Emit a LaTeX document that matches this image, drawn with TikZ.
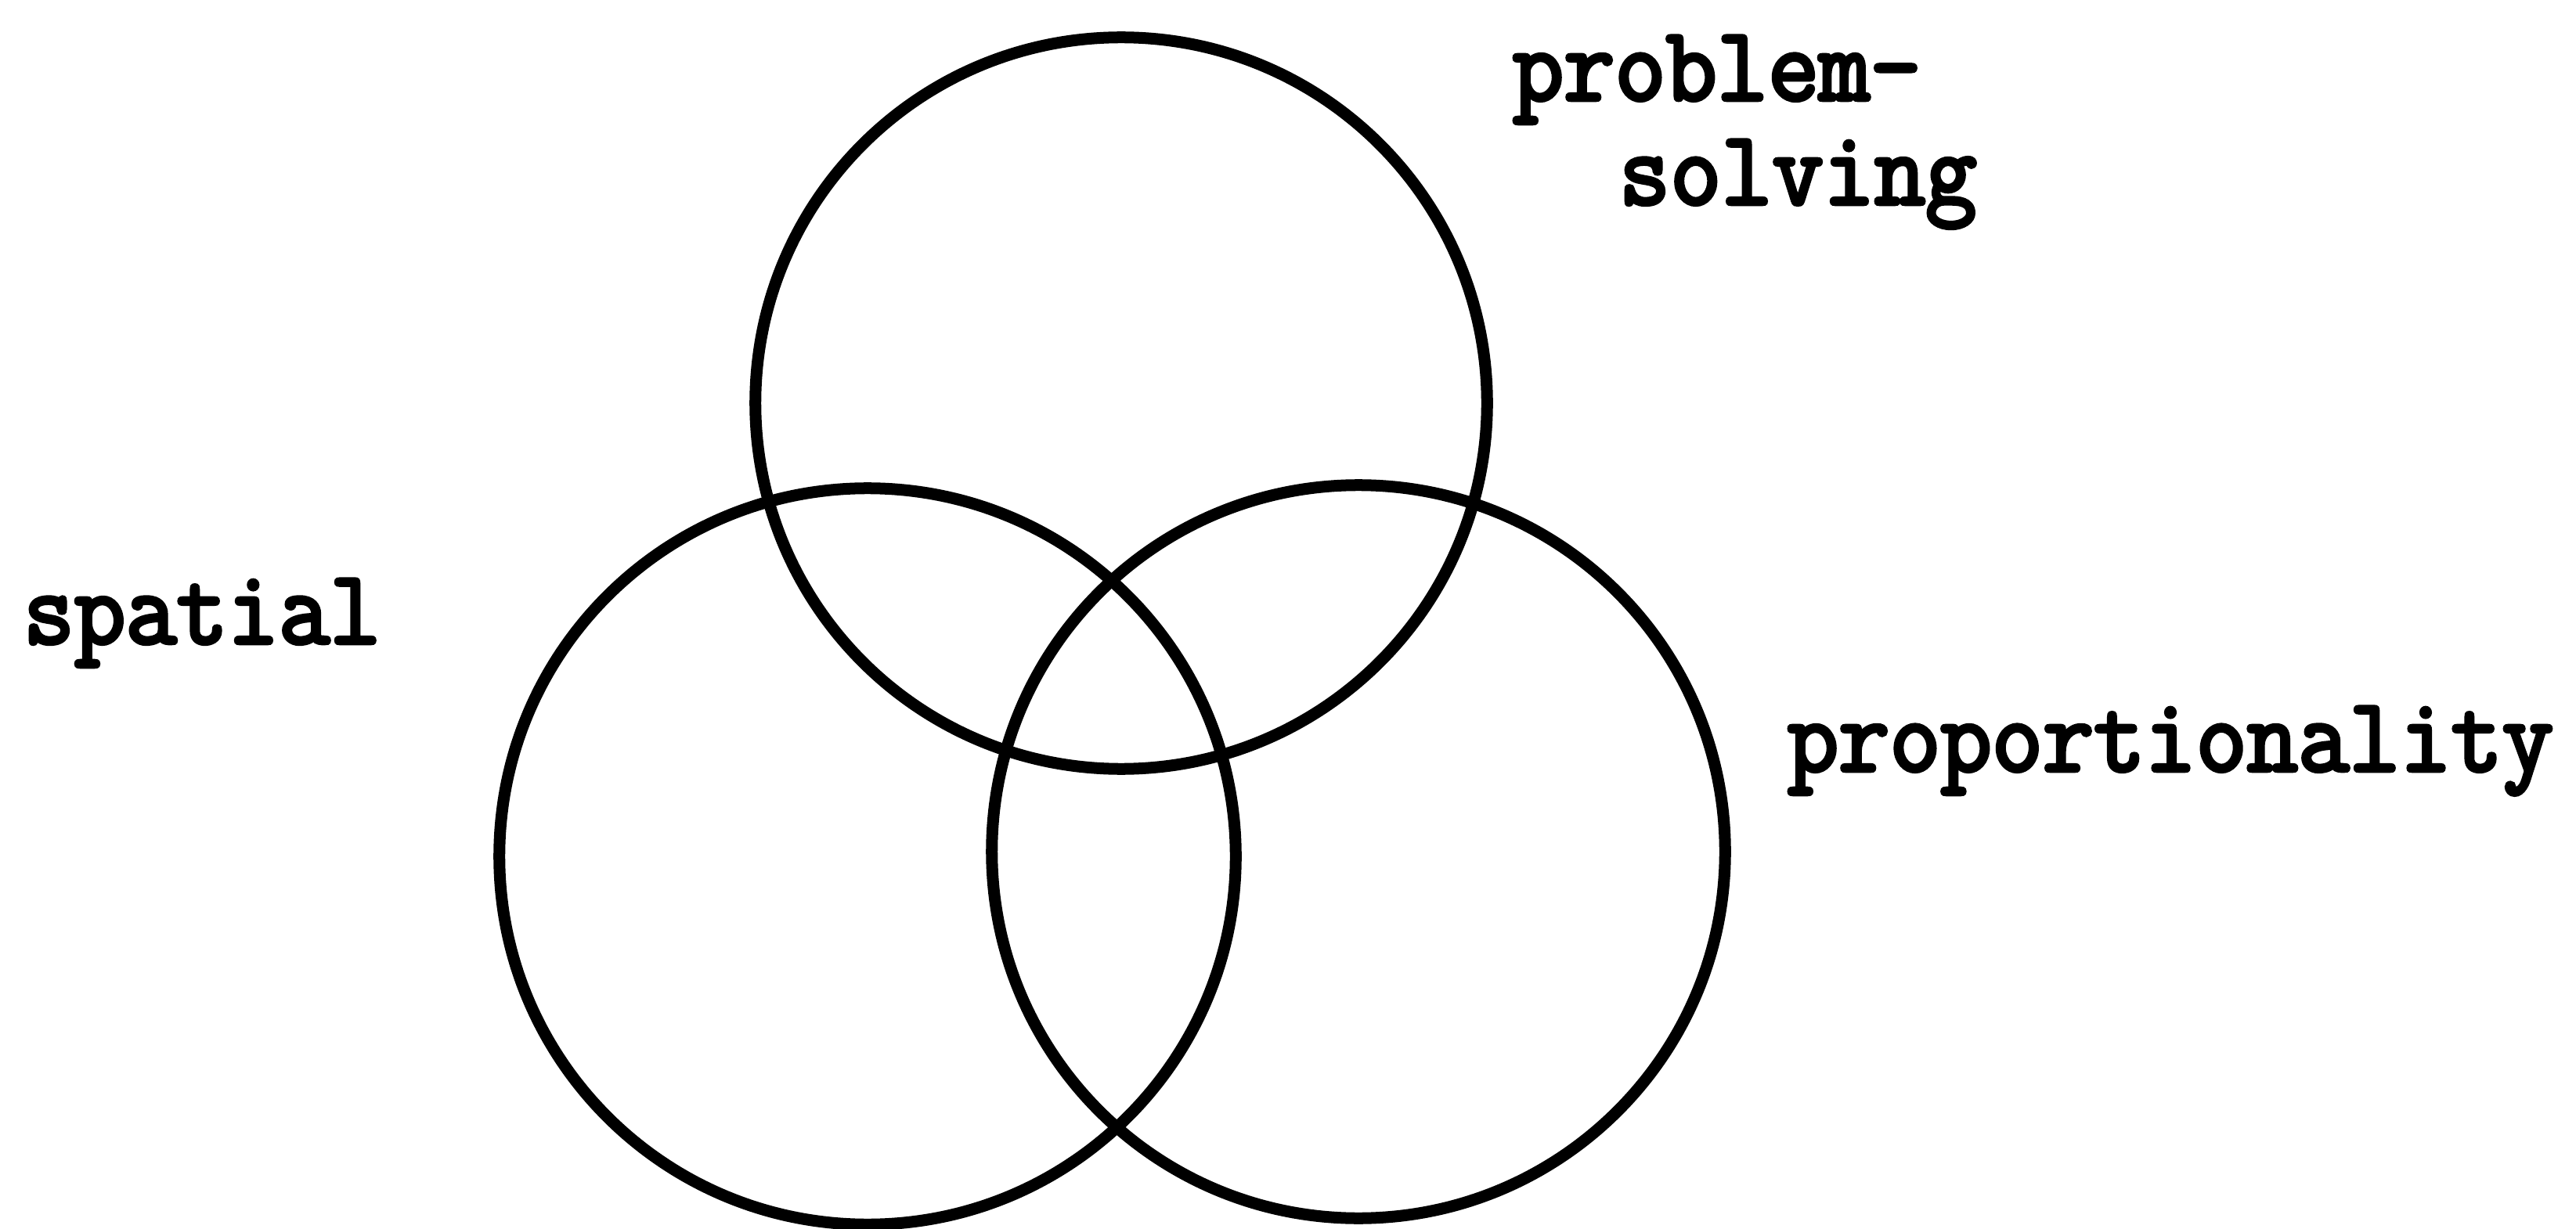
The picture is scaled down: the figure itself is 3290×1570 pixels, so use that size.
\documentclass[tikz,border=0pt]{standalone}
\usepackage{fontspec}
\newfontfamily\tw[FakeBold=3.5,FakeStretch=0.94]{Latin Modern Mono}
\begin{document}
\begin{tikzpicture}[x=0.01cm,y=-0.01cm,
  ring/.style={draw=black, line width=0.15cm, circle, inner sep=0pt, outer sep=0pt},
  lbl/.style={font=\tw\fontsize{38.3pt}{46pt}\selectfont, inner sep=0pt, outer sep=0pt, anchor=base west, text=black}]
\useasboundingbox (0,0) rectangle (3290,1570);
\node[ring, minimum size=9.34cm] (top) at (1432,515) {};
\node[ring, minimum size=9.40cm] (left) at (1108,1094) {};
\node[ring, minimum size=9.36cm] (right) at (1735,1088) {};
\node[lbl] (spatial) at (30,822) {spatial};
\node[lbl] (prop) at (2283,985) {proportionality};
\node[lbl] (problem) at (1932,128) {problem-};
\node[lbl] (solving) at (2068,261) {solving};
\end{tikzpicture}
\end{document}
